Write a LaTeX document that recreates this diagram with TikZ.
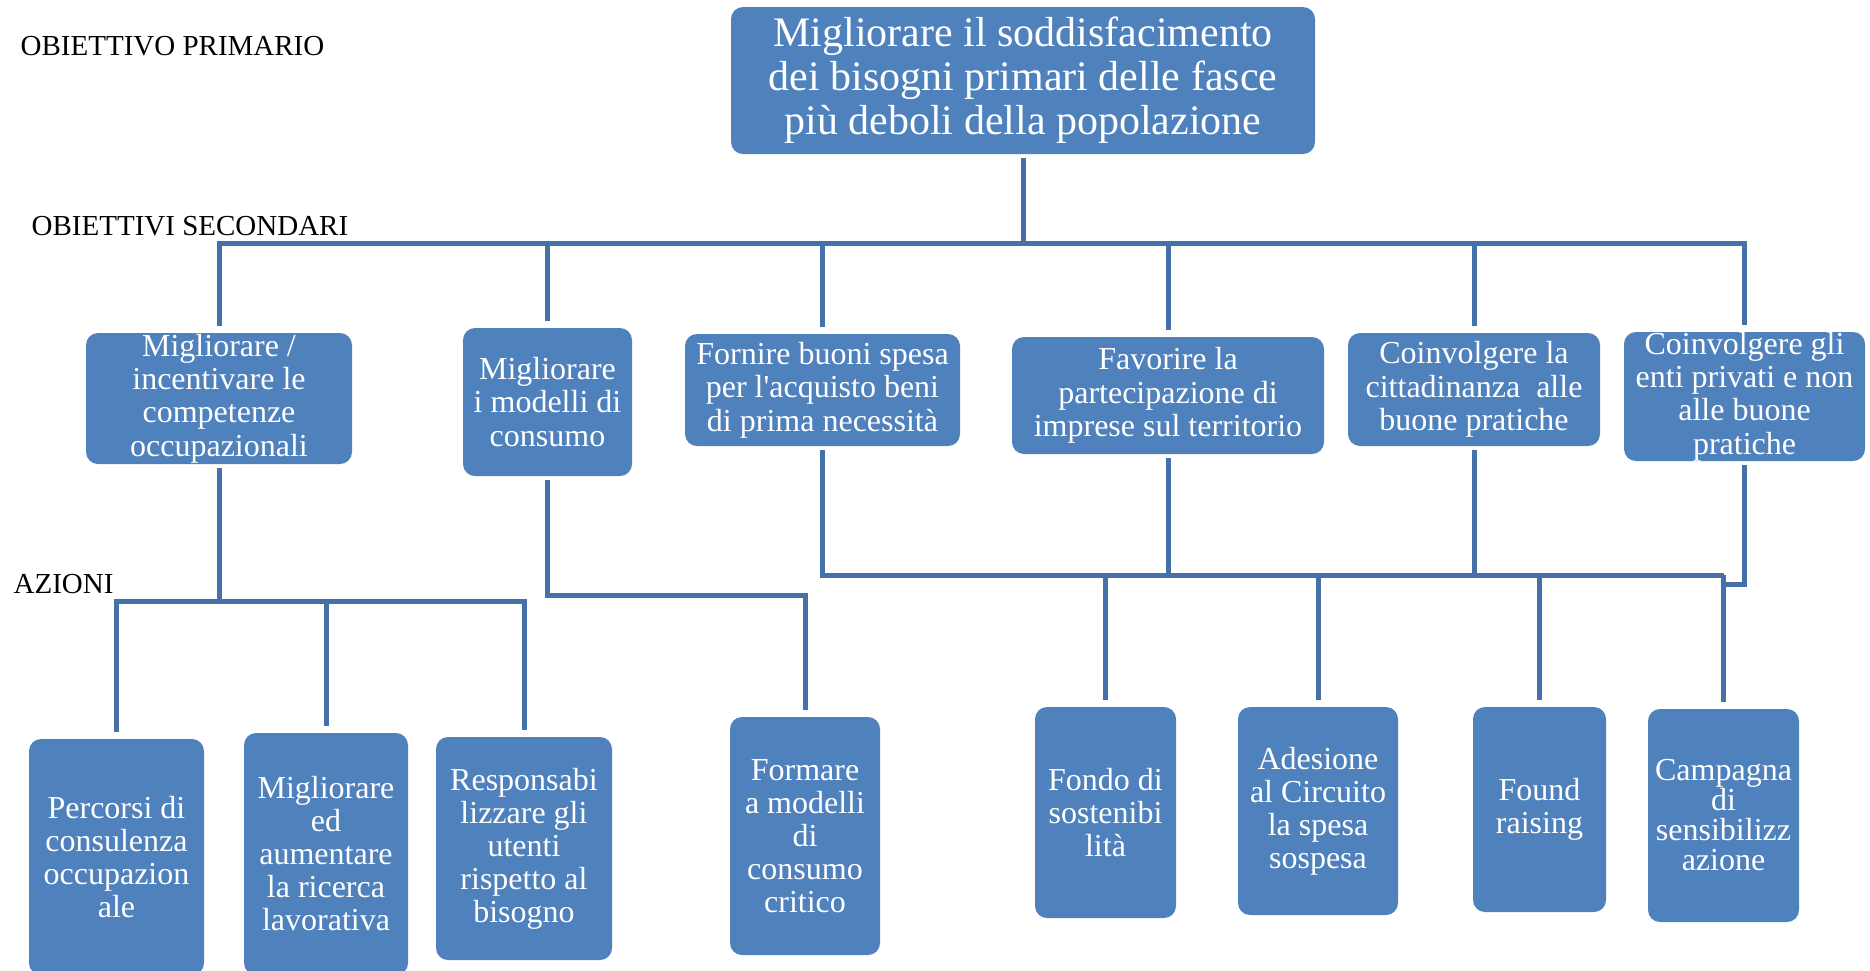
\documentclass[tikz,border=0pt]{standalone}
\usepackage{fontspec}
\setmainfont{Liberation Serif}
\usepackage{tikz}
\usetikzlibrary{calc}
\definecolor{boxblue}{HTML}{4F81BD}
\definecolor{linkblue}{HTML}{4571A8}

\begin{document}
\begin{tikzpicture}[
 x=0.3pt,y=-0.3pt,
 box/.style={rounded corners=3.6pt,fill=boxblue,text=white,align=center,inner sep=0pt},
 goal/.style={box,font=\fontsize{12.6}{13.2}\selectfont},
 subgoal/.style={box,font=\fontsize{9.6}{10}\selectfont},
 action/.style={box,font=\fontsize{9.6}{9.9}\selectfont},
 tag/.style={anchor=base west,inner sep=0pt,font=\fontsize{8.7}{10}\selectfont},
 link/.style={draw=linkblue,line width=1.5pt,shorten <=1pt,shorten >=1.8pt}
]
\useasboundingbox (0,0) rectangle (1870,970);
% livelli
\node[tag] (lprim) at (20,55) {OBIETTIVO PRIMARIO};
\node[tag] (lsec) at (31,235) {OBIETTIVI SECONDARI};
\node[tag] (lazi) at (13,593) {AZIONI};
% obiettivo primario
\node[goal,minimum width=175.2pt,minimum height=44.1pt] (main) at (1023,80.5) {Migliorare il soddisfacimento\\dei bisogni primari delle fasce\\più deboli della popolazione};
% obiettivi secondari
\node[subgoal,minimum width=79.8pt,minimum height=39.3pt] (s1) at (219,398.5) {Migliorare /\\incentivare le\\competenze\\occupazionali};
\node[subgoal,minimum width=50.7pt,minimum height=44.4pt] (s2) at (547.5,402) {Migliorare\\i modelli di\\consumo};
\node[subgoal,minimum width=82.5pt,minimum height=33.6pt] (s3) at (822.5,390) {Fornire buoni spesa\\per l\textquotesingle acquisto beni\\di prima necessità};
\node[subgoal,minimum width=93.6pt,minimum height=35.1pt] (s4) at (1168,395.5) {Favorire la\\partecipazione di\\imprese sul territorio};
\node[subgoal,minimum width=75.6pt,minimum height=33.9pt] (s5) at (1474,389.5) {Coinvolgere la\\cittadinanza~ alle\\buone pratiche};
\node[subgoal,minimum width=72.3pt,minimum height=38.7pt] (s6) at (1744.5,396.5) {Coinvolgere gli\\enti privati e non\\alle buone\\pratiche};
% azioni
\node[action,minimum width=52.5pt,minimum height=70.8pt] (a1) at (116.5,857) {Percorsi di\\consulenza\\occupazion\\ale};
\node[action,minimum width=49.2pt,minimum height=72.6pt] (a2) at (326,854) {Migliorare\\ed\\aumentare\\la ricerca\\lavorativa};
\node[action,minimum width=52.8pt,minimum height=66.9pt] (a3) at (524,848.5) {Responsabi\\lizzare gli\\utenti\\rispetto al\\bisogno};
\node[action,minimum width=45pt,minimum height=71.4pt] (a4) at (805,836) {Formare\\a modelli\\di\\consumo\\critico};
\node[action,minimum width=42.3pt,minimum height=63.3pt] (a5) at (1105.5,812.5) {Fondo di\\sostenibi\\lità};
\node[action,minimum width=48pt,minimum height=62.4pt] (a6) at (1318,811) {Adesione\\al Circuito\\la spesa\\sospesa};
\node[action,minimum width=39.9pt,minimum height=61.5pt] (a7) at (1539.5,809.5) {Found\\raising};
\node[action,minimum width=45.3pt,minimum height=63.9pt,font=\fontsize{9.6}{9}\selectfont] (a8) at (1723.5,815.5) {Campagna\\di\\sensibilizz\\azione};
% barre di collegamento
\coordinate (bus1) at (0,243);
\coordinate (bus2) at (0,601);
\coordinate (bus3) at (0,595);
\coordinate (bus4) at (0,575);
\coordinate (bus5) at (0,584);
\foreach \s in {s1,s2,s3,s4,s5,s6}
 \draw[link] (main.south) |- (bus1 -| \s) -- (\s.north);
\foreach \a in {a1,a2,a3}
 \draw[link] (s1.south) |- (bus2 -| \a) -- (\a.north);
\draw[link] (s2.south) |- (bus3 -| a4) -- (a4.north);
\draw[link,shorten >=0pt] (s3.south) |- (bus4 -| a8);
\draw[link,shorten >=0pt] (s4.south) -- (s4.south |- bus4);
\draw[link,shorten >=0pt] (s5.south) -- (s5.south |- bus4);
\draw[link,shorten >=0pt] (s6.south) |- (bus5 -| a8);
\foreach \a in {a5,a6,a7,a8}
 \draw[link,shorten <=0pt] (bus4 -| \a) -- (\a.north);
\end{tikzpicture}
\end{document}
